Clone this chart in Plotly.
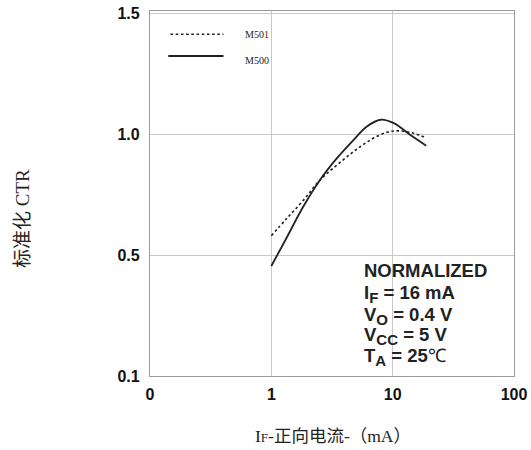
import plotly.graph_objects as go

# Data (x: forward current IF in mA, y: normalized CTR)
m500_x = [1.0, 1.33, 1.83, 2.51, 3.46, 4.75, 6.13, 7.95, 10.2, 14.0, 18.9]
m500_y = [0.455, 0.57, 0.70, 0.81, 0.90, 0.976, 1.032, 1.06, 1.046, 0.997, 0.953]

m501_x = [1.0, 1.33, 1.83, 2.51, 3.46, 4.75, 6.53, 8.98, 11.6, 14.9, 18.9]
m501_y = [0.58, 0.65, 0.726, 0.81, 0.872, 0.928, 0.976, 1.008, 1.014, 1.004, 0.986]

x_tickvals = [0.1, 1, 10, 100]
x_ticktext = ["0", "1", "10", "100"]
y_tickvals = [0.0, 0.5, 1.0, 1.5]
y_ticktext = ["0.1", "0.5", "1.0", "1.5"]

series_names = ["M501", "M500"]

SUB = "<sub><span style='font-size:15px'>{}</span></sub>"
note_lines = [
    "<b>NORMALIZED</b>",
    "<b>I" + SUB.format("F") + " = 16 mA</b>",
    "<b>V" + SUB.format("O") + " = 0.4 V</b>",
    "<b>V" + SUB.format("CC") + " = 5 V</b>",
    "<b>T" + SUB.format("A") + " = 25</b><span style='font-family:Liberation Serif;font-weight:normal'>℃</span>",
]

LINE_COLOR = "#222222"

fig = go.Figure()
fig.add_trace(go.Scatter(x=m501_x, y=m501_y, mode="lines", name="M501",
                         line=dict(color=LINE_COLOR, width=1.6, dash="2.6px,2.6px", shape="spline", smoothing=1)))
fig.add_trace(go.Scatter(x=m500_x, y=m500_y, mode="lines", name="M500",
                         line=dict(color=LINE_COLOR, width=1.8, shape="spline", smoothing=1)))

W, H = 531, 450
L, R, T, B = 150, 17, 11, 74
pw, ph = W - L - R, H - T - B


def px(xp):
    return (xp - L) / pw


def py(yp):
    return (H - B - yp) / ph


shapes = [
    # white patch behind the legend (hides the gridline)
    dict(type="rect", xref="paper", yref="paper", x0=px(158), x1=px(300), y0=py(77), y1=py(18),
         fillcolor="white", line=dict(width=0), layer="between"),
    dict(type="line", xref="paper", yref="paper", x0=px(170.5), x1=px(223.5), y0=py(34.3), y1=py(34.3),
         line=dict(color=LINE_COLOR, width=1.6, dash="2.6px,2.6px")),
    dict(type="line", xref="paper", yref="paper", x0=px(168.3), x1=px(223.5), y0=py(56), y1=py(56),
         line=dict(color=LINE_COLOR, width=1.8)),
]

annotations = [
    dict(text=series_names[0], xref="paper", yref="paper", x=px(242.5), y=py(34.5), xanchor="left",
         yanchor="middle", showarrow=False, font=dict(family="Liberation Serif", size=10, color="#222")),
    dict(text=series_names[1], xref="paper", yref="paper", x=px(242.5), y=py(60), xanchor="left",
         yanchor="middle", showarrow=False, font=dict(family="Liberation Serif", size=10, color="#222")),
    dict(text="标准化 CTR", xref="paper", yref="paper", x=px(22), y=py(219), textangle=-90,
         xanchor="center", yanchor="middle", showarrow=False,
         font=dict(family="Liberation Serif, Noto Sans CJK SC", size=19, color="#222")),
    dict(text="I<span style='font-size:13px'>F</span>-正向电流-（mA）", xref="paper", yref="paper",
         x=px(253), y=py(436), xanchor="left", yanchor="middle", showarrow=False,
         font=dict(family="Liberation Serif, Noto Sans CJK SC", size=17.5, color="#222")),
]

note_y = [270.7, 293.5, 315.5, 336, 357]
for txt, yy in zip(note_lines, note_y):
    annotations.append(dict(text=txt, xref="paper", yref="paper", x=px(362), y=py(yy), xanchor="left",
                            yanchor="middle", showarrow=False,
                            font=dict(family="Liberation Sans, Arial", size=18.5, color="#222")))

fig.update_layout(
    width=W, height=H,
    margin=dict(l=L, r=R, t=T, b=B, autoexpand=False),
    paper_bgcolor="white", plot_bgcolor="white",
    showlegend=False,
    shapes=shapes,
    annotations=annotations,
)

fig.update_xaxes(type="log", range=[-1, 2], tickvals=x_tickvals, ticktext=x_ticktext,
                 showgrid=True, gridcolor="#c8c8c8", gridwidth=1, automargin=False,
                 showline=True, linecolor="#9a9a9a", linewidth=1.2, mirror=True,
                 ticks="", ticklabelstandoff=4,
                 tickfont=dict(family="Liberation Sans, Arial", size=16, color="#111", weight="bold"))
fig.update_yaxes(range=[0, 1.51], tickvals=y_tickvals, ticktext=y_ticktext,
                 showgrid=True, gridcolor="#c8c8c8", gridwidth=1, zeroline=False, automargin=False,
                 showline=True, linecolor="#9a9a9a", linewidth=1.2, mirror=True,
                 ticks="", ticklabelstandoff=6,
                 tickfont=dict(family="Liberation Sans, Arial", size=16, color="#111", weight="bold"))

fig.write_html("out.html")
